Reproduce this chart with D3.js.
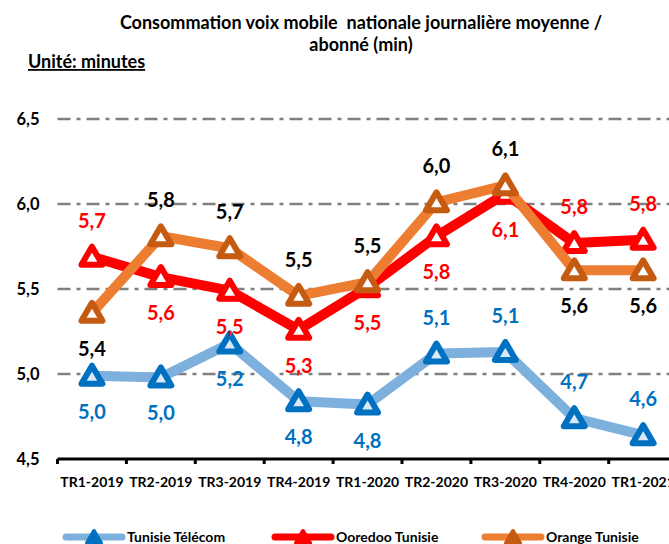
<!DOCTYPE html>
<html>
<head>
<meta charset="utf-8">
<script src="https://cdn.jsdelivr.net/npm/d3@7"></script>
<style>
body { margin: 0; background: #fff; }
svg { font-family: Lato, sans-serif; font-weight: bold; }
text { white-space: pre; }
</style>
</head>
<body>
<script>
var categories = ["TR1-2019", "TR2-2019", "TR3-2019", "TR4-2019", "TR1-2020", "TR2-2020", "TR3-2020", "TR4-2020", "TR1-2021"];
var telecom = [4.99, 4.98, 5.18, 4.84, 4.82, 5.12, 5.13, 4.74, 4.64];
var ooredoo = [5.69, 5.57, 5.49, 5.26, 5.51, 5.81, 6.06, 5.77, 5.79];
var orange  = [5.36, 5.81, 5.74, 5.46, 5.54, 6.01, 6.11, 5.61, 5.61];
// labels: 1 = below the point, -1 = above
var telecomSide = [1, 1, 1, 1, 1, -1, -1, -1, -1];
var ooredooSide = [-1, 1, 1, 1, 1, 1, 1, -1, -1];
var orangeSide  = [1, -1, -1, -1, -1, -1, -1, 1, 1];
var yTicks = [4.5, 5.0, 5.5, 6.0, 6.5];
var seriesNames = ["Tunisie Télécom", "Ooredoo Tunisie", "Orange Tunisie"];

var w = 669, h = 544;

var svg = d3.select("body").append("svg")
	.attr("width", w)
	.attr("height", h);

/*Title*/
svg.append("text")
	.attr("x", 361).attr("y", 29)
	.attr("text-anchor", "middle")
	.attr("font-size", 18)
	.text("Consommation voix mobile  nationale journalière moyenne /");
svg.append("text")
	.attr("x", 361).attr("y", 51)
	.attr("text-anchor", "middle")
	.attr("font-size", 18)
	.text("abonné (min)");
svg.append("text")
	.attr("x", 28).attr("y", 68)
	.attr("font-size", 18)
	.attr("text-decoration", "underline")
	.text("Unité: minutes");

/*Scales*/
var x0 = 57.5, step = 68.9;
var xScale = d3.scalePoint()
	.domain(categories)
	.range([x0 + step / 2, x0 + step * 8.5]);
var yScale = d3.scaleLinear()
	.domain([4.5, 6.5])
	.range([459, 119]);

/*Grid*/
svg.selectAll(".grid")
	.data(yTicks.slice(1))
	.enter().append("line")
	.attr("x1", x0).attr("x2", w)
	.attr("y1", function(d) { return yScale(d); })
	.attr("y2", function(d) { return yScale(d); })
	.attr("stroke", "#808080")
	.attr("stroke-width", 2.5)
	.attr("stroke-dasharray", "13,6,4,6");

/*Y axis labels*/
var yAxis = d3.axisLeft(yScale)
	.tickValues(yTicks)
	.tickSize(0)
	.tickPadding(18)
	.tickFormat(function(d) { return d3.format(".1f")(d).replace(".", ","); });
var gy = svg.append("g")
	.attr("transform", "translate(" + x0 + ",0)")
	.call(yAxis);
gy.select(".domain").remove();
gy.selectAll("text")
	.attr("font-size", 16.5)
	.attr("font-family", "Lato")
	.attr("font-weight", "bold")
	.attr("fill", "#000");

/*X axis*/
var xBand = d3.scaleBand().domain(categories).range([x0, x0 + step * 9]);
var gx = svg.append("g")
	.attr("transform", "translate(0," + yScale(4.5) + ")");
gx.append("line")
	.attr("x1", x0).attr("x2", w)
	.attr("stroke", "#000").attr("stroke-width", 3);
gx.selectAll(".tk")
	.data(categories)
	.enter().append("line")
	.attr("x1", function(d) { return xBand(d); })
	.attr("x2", function(d) { return xBand(d); })
	.attr("y1", 0).attr("y2", 5)
	.attr("stroke", "#000").attr("stroke-width", 3);
gx.selectAll(".lbl")
	.data(categories)
	.enter().append("text")
	.attr("x", function(d) { return xScale(d); })
	.attr("y", 28)
	.attr("text-anchor", "middle")
	.attr("font-size", 14)
	.text(function(d) { return d; });

var tri = "M0,-10L10.5,8L-10.5,8Z";

function drawSeries(values, side, lineColor, markColor, markFill, labelColor) {
	var line = d3.line()
		.x(function(d, i) { return xScale(categories[i]); })
		.y(function(d) { return yScale(d); });
	svg.append("path")
		.datum(values)
		.attr("d", line)
		.attr("fill", "none")
		.attr("stroke", lineColor)
		.attr("stroke-width", 10)
		.attr("stroke-linejoin", "round");
	svg.selectAll(null)
		.data(values)
		.enter().append("path")
		.attr("d", tri)
		.attr("transform", function(d, i) {
			return "translate(" + xScale(categories[i]) + "," + yScale(d) + ")";
		})
		.attr("fill", markFill)
		.attr("stroke", markColor)
		.attr("stroke-width", 6)
		.attr("stroke-linejoin", "round");
	return function() {
		svg.selectAll(null)
			.data(values)
			.enter().append("text")
			.attr("x", function(d, i) { return xScale(categories[i]); })
			.attr("y", function(d, i) { return yScale(d) + side[i] * 36 + 7; })
			.attr("text-anchor", "middle")
			.attr("font-size", 20)
			.attr("fill", labelColor)
			.text(function(d) { return d3.format(".1f")(d).replace(".", ","); });
	};
}

var lbl1 = drawSeries(telecom, telecomSide, "#7eb0de", "#0070c0", "#dbe8f5", "#0070c0");
var lbl2 = drawSeries(ooredoo, ooredooSide, "#ff0000", "#ff0000", "#fff", "#ff0000");
var lbl3 = drawSeries(orange, orangeSide, "#ed7d31", "#c55a11", "#fff", "#000");
lbl1(); lbl2(); lbl3();

/*Legend*/
var legX = [66, 275, 485];
var legColors = [["#7eb0de", "#0070c0", "#dbe8f5"], ["#ff0000", "#ff0000", "#fff"], ["#ed7d31", "#c55a11", "#fff"]];
var leg = svg.selectAll(".leg")
	.data(seriesNames)
	.enter().append("g")
	.attr("transform", function(d, i) { return "translate(" + legX[i] + ",537)"; });
leg.append("line")
	.attr("x1", 0).attr("x2", 56)
	.attr("stroke", function(d, i) { return legColors[i][0]; })
	.attr("stroke-width", 7)
	.attr("stroke-linecap", "round");
leg.append("path")
	.attr("d", "M0,-6L7,6L-7,6Z")
	.attr("transform", "translate(28,0)")
	.attr("fill", function(d, i) { return legColors[i][1]; })
	.attr("stroke", function(d, i) { return legColors[i][1]; })
	.attr("stroke-width", 4)
	.attr("stroke-linejoin", "round");
leg.append("text")
	.attr("x", 61).attr("y", 5)
	.attr("font-size", 14)
	.text(function(d) { return d; });
</script>
</body>
</html>
